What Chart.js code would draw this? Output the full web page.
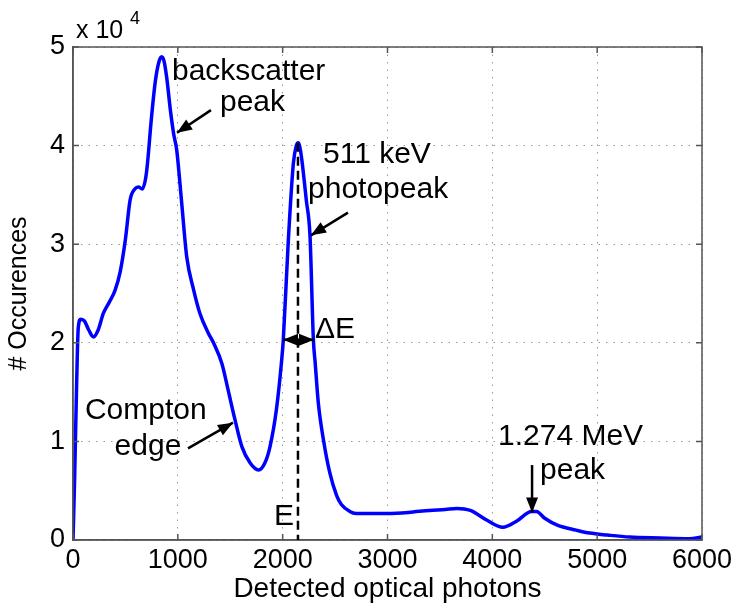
<!DOCTYPE html>
<html>
<head>
<meta charset="utf-8">
<script src="https://cdn.jsdelivr.net/npm/chart.js@4.4.1/dist/chart.umd.min.js"></script>
<style>
  body { margin: 0; background: #fff; }
  #wrap { width: 737px; height: 607px; }
</style>
</head>
<body>
<div id="wrap"><canvas id="spec" width="737" height="607"></canvas></div>
<script>
// detected optical photons (x) and occurences in units of 10^4 (y)
let photons = [0, 15, 35, 50, 75, 110, 150, 195, 240, 290, 350, 400, 450, 500, 545, 590, 625, 660, 700, 750,
     785, 820, 846, 870, 895, 930, 960, 990, 1020, 1040, 1085, 1150, 1210, 1290, 1340, 1420, 1480, 1545, 1610, 1690,
     1770, 1830, 1880, 1940, 1991, 2006, 2054, 2102, 2130, 2149, 2170, 2187, 2225, 2261, 2293, 2310, 2340, 2390, 2450, 2515,
     2560, 2640, 2700, 2850, 3000, 3200, 3400, 3550, 3660, 3790, 3950, 4100, 4230, 4375, 4420, 4500, 4620, 4800, 4930, 5100,
     5310, 5600, 5880, 6000];
let counts = [0, 0.6, 1.6, 2.15, 2.24, 2.22, 2.13, 2.06, 2.13, 2.3, 2.42, 2.53, 2.72, 3.05, 3.45, 3.56, 3.58, 3.56, 3.72, 4.3,
     4.65, 4.85, 4.9, 4.85, 4.68, 4.35, 4.12, 3.95, 3.62, 3.38, 2.87, 2.54, 2.3, 2.1, 2.0, 1.79, 1.52, 1.22, 0.95, 0.78,
     0.71, 0.78, 0.95, 1.32, 1.83, 2.03, 3.04, 3.82, 4.0, 4.03, 3.95, 3.82, 3.45, 3.08, 2.03, 1.8, 1.39, 1.01, 0.68, 0.45,
     0.36, 0.29, 0.27, 0.27, 0.27, 0.28, 0.3, 0.31, 0.32, 0.3, 0.2, 0.13, 0.19, 0.29, 0.29, 0.22, 0.15, 0.1, 0.07, 0.05,
     0.03, 0.02, 0.013, 0.03];
let xTicks = [0, 1000, 2000, 3000, 4000, 5000, 6000];
let yTicks = [0, 1, 2, 3, 4, 5];

// annotation texts, placed in data units
let labels = [
     ["backscatter", 944, 4.75, "left"],
     ["peak", 1402, 4.43, "left"],
     ["511 keV", 2385, 3.91, "left"],
     ["photopeak", 2242, 3.55, "left"],
     ["\u0394E", 2308, 2.13, "left"],
     ["E", 2013, 0.24, "center"],
     ["Compton", 114, 1.31, "left"],
     ["edge", 715, 0.95, "center"],
     ["1.274 MeV", 4054, 1.05, "left"],
     ["peak", 4455, 0.7, "left"],
];
// arrows: tail x, tail y, head x, head y, double headed
let arrows = [
     [1316, 4.36, 992, 4.13, false],
     [2623, 3.32, 2270, 3.09, false],
     [1097, 0.93, 1526, 1.19, false],
     [4379, 0.76, 4379, 0.28, false],
     [2003, 2.03, 2299, 2.03, true],
];
let energyLine = [2146, 0, 4.03]; // x, y from, y to

let points = [];
for (let i = 0; i < photons.length; i++) {
     points.push({ x: photons[i], y: counts[i] });
}

const FONT = "'Liberation Sans', Arial, Helvetica, sans-serif";

function head(ctx, x1, y1, x2, y2) {
     //filled triangle at x2,y2
     let ang = Math.atan2(y2 - y1, x2 - x1);
     let len = 15, w = 6;
     ctx.beginPath();
     ctx.moveTo(x2, y2);
     ctx.lineTo(x2 - len * Math.cos(ang) + w * Math.sin(ang), y2 - len * Math.sin(ang) - w * Math.cos(ang));
     ctx.lineTo(x2 - len * Math.cos(ang) - w * Math.sin(ang), y2 - len * Math.sin(ang) + w * Math.cos(ang));
     ctx.closePath();
     ctx.fill();
}

const extras = {
     id: "extras",
     afterDraw(chart) {
          const ctx = chart.ctx;
          const xs = chart.scales.x;
          const ys = chart.scales.y;
          const a = chart.chartArea;
          ctx.save();
          // box on top and right, inward tick marks
          ctx.strokeStyle = "#555";
          ctx.lineWidth = 1.5;
          ctx.strokeRect(a.left, a.top, a.right - a.left, a.bottom - a.top);
          ctx.beginPath();
          xTicks.forEach((t) => {
               let px = xs.getPixelForValue(t);
               ctx.moveTo(px, a.bottom); ctx.lineTo(px, a.bottom - 6);
               ctx.moveTo(px, a.top); ctx.lineTo(px, a.top + 6);
          });
          yTicks.forEach((t) => {
               let py = ys.getPixelForValue(t);
               ctx.moveTo(a.left, py); ctx.lineTo(a.left + 6, py);
               ctx.moveTo(a.right, py); ctx.lineTo(a.right - 6, py);
          });
          ctx.stroke();

          // dashed E line
          ctx.strokeStyle = "#000";
          ctx.lineWidth = 2.5;
          ctx.setLineDash([9, 5]);
          ctx.beginPath();
          ctx.moveTo(xs.getPixelForValue(energyLine[0]), ys.getPixelForValue(energyLine[2]));
          ctx.lineTo(xs.getPixelForValue(energyLine[0]), ys.getPixelForValue(energyLine[1]));
          ctx.stroke();
          ctx.setLineDash([]);

          // arrows
          ctx.fillStyle = "#000";
          ctx.lineWidth = 2.5;
          arrows.forEach((r) => {
               let x1 = xs.getPixelForValue(r[0]), y1 = ys.getPixelForValue(r[1]);
               let x2 = xs.getPixelForValue(r[2]), y2 = ys.getPixelForValue(r[3]);
               ctx.beginPath();
               ctx.moveTo(x1, y1);
               ctx.lineTo(x2, y2);
               ctx.stroke();
               head(ctx, x1, y1, x2, y2);
               if (r[4]) head(ctx, x2, y2, x1, y1);
          });

          // texts
          ctx.font = "30px " + FONT;
          ctx.textBaseline = "middle";
          labels.forEach((l) => {
               ctx.textAlign = l[3];
               ctx.fillText(l[0], xs.getPixelForValue(l[1]), ys.getPixelForValue(l[2]));
          });

          // exponent
          ctx.textAlign = "left";
          ctx.textBaseline = "alphabetic";
          ctx.font = "25px " + FONT;
          ctx.fillText("x 10", a.left + 3, a.top - 9);
          ctx.font = "18px " + FONT;
          ctx.fillText("4", a.left + 57, a.top - 23);
          ctx.restore();
     },
};

new Chart("spec", {
     type: "line",
     data: {
          datasets: [
               {
                    data: points,
                    borderColor: "#0000ff",
                    borderWidth: 3.5,
                    pointRadius: 0,
                    cubicInterpolationMode: "monotone",
                    fill: false,
               },
          ],
     },
     options: {
          responsive: false,
          animation: false,
          devicePixelRatio: 1,
          layout: { padding: { top: 47, right: 35, left: 0, bottom: 0 } },
          plugins: { legend: { display: false }, tooltip: { enabled: false } },
          scales: {
               x: {
                    type: "linear",
                    min: 0,
                    max: 6000,
                    afterBuildTicks: (s) => { s.ticks = xTicks.map((v) => ({ value: v })); },
                    afterFit: (s) => { s.height = 67; },
                    ticks: {
                         font: { size: 27, family: FONT },
                         color: "#000",
                         padding: 4,
                         maxRotation: 0,
                         callback: (v) => String(v),
                    },
                    grid: { color: "#999", lineWidth: 1, drawTicks: false },
                    border: { color: "#555", width: 1.5, dash: [1.5, 6] },
                    title: {
                         display: true,
                         text: "Detected optical photons",
                         font: { size: 28, family: FONT },
                         color: "#000",
                         padding: { top: 0, bottom: 1 },
                    },
               },
               y: {
                    min: 0,
                    max: 5,
                    afterBuildTicks: (s) => { s.ticks = yTicks.map((v) => ({ value: v })); },
                    afterFit: (s) => { s.width = 73; },
                    ticks: {
                         font: { size: 27, family: FONT },
                         color: "#000",
                         padding: 8,
                         callback: (v) => String(v),
                    },
                    grid: { color: "#999", lineWidth: 1, drawTicks: false },
                    border: { color: "#555", width: 1.5, dash: [1.5, 6] },
                    title: {
                         display: true,
                         text: "# Occurences",
                         font: { size: 25, family: FONT },
                         color: "#000",
                         padding: { top: 4, bottom: 0 },
                    },
               },
          },
     },
     plugins: [extras],
});
</script>
</body>
</html>
